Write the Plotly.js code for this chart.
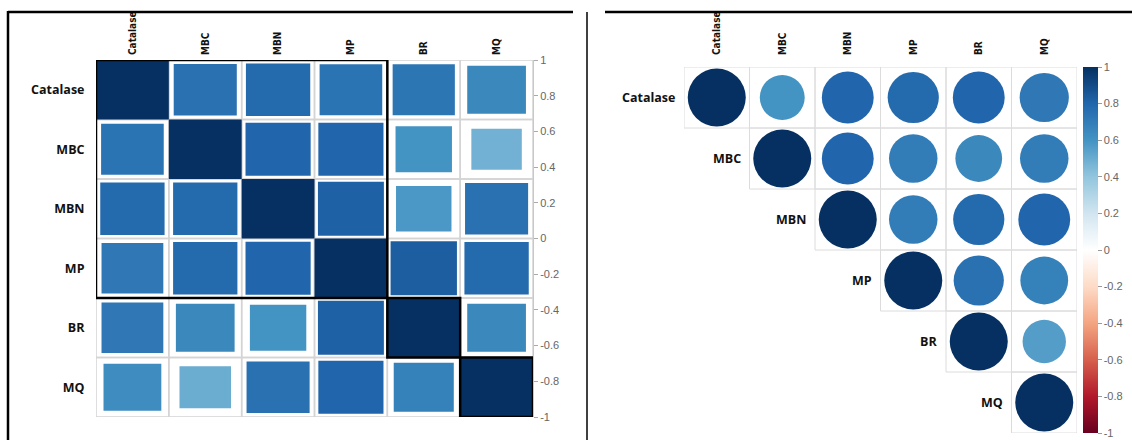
<!DOCTYPE html>
<html>
<head>
<meta charset="utf-8">
<script src="https://cdn.plot.ly/plotly-3.0.1.min.js"></script>
<style>html,body{margin:0;padding:0;background:#fff;}#chart{width:1132px;height:440px;}</style>
</head>
<body>
<div id="chart"></div>
<script>
// ---- data ----
const categories = ['Catalase', 'MBC', 'MBN', 'MP', 'BR', 'MQ'];
// left panel (method = square, hclust order, full matrix)
const squareCorr = [
  [1.00, 0.75, 0.78, 0.74, 0.73, 0.65],
  [0.74, 1.00, 0.80, 0.80, 0.60, 0.48],
  [0.78, 0.78, 1.00, 0.82, 0.58, 0.75],
  [0.72, 0.78, 0.80, 1.00, 0.83, 0.78],
  [0.72, 0.65, 0.60, 0.82, 1.00, 0.65],
  [0.63, 0.50, 0.75, 0.80, 0.68, 1.00]
];
// hclust rectangles (first, last index)
const clusters = [[0, 3], [4, 4], [5, 5]];
// right panel (method = circle, upper triangle)
const circleCorr = [
  [1.00, 0.60, 0.80, 0.78, 0.80, 0.72],
  [null, 1.00, 0.80, 0.70, 0.65, 0.70],
  [null, null, 1.00, 0.70, 0.78, 0.80],
  [null, null, null, 1.00, 0.75, 0.68],
  [null, null, null, null, 1.00, 0.56],
  [null, null, null, null, null, 1.00]
];
const colorTicks = [1, 0.8, 0.6, 0.4, 0.2, 0, -0.2, -0.4, -0.6, -0.8, -1];

// ---- colours (corrplot RdBu) ----
const rdbu = [
  [0.0, '#67001F'], [0.1, '#B2182B'], [0.2, '#D6604D'], [0.3, '#F4A582'],
  [0.4, '#FDDBC7'], [0.5, '#FFFFFF'], [0.6, '#D1E5F0'], [0.7, '#92C5DE'],
  [0.8, '#4393C3'], [0.9, '#2166AC'], [1.0, '#053061']
];
function hex2rgb(h) { return [1, 3, 5].map(k => parseInt(h.substr(k, 2), 16)); }
function colorAt(v) {
  const t = Math.max(0, Math.min(1, (v + 1) / 2));
  for (let k = 1; k < rdbu.length; k++) {
    if (t <= rdbu[k][0]) {
      const a = rdbu[k - 1], b = rdbu[k];
      const f = (t - a[0]) / (b[0] - a[0]);
      const ca = hex2rgb(a[1]), cb = hex2rgb(b[1]);
      const c = ca.map((x, i) => Math.round(x + (cb[i] - x) * f));
      return 'rgb(' + c.join(',') + ')';
    }
  }
  return rdbu[rdbu.length - 1][1];
}

const W = 1132, H = 440;
const px = x => x / W, py = y => 1 - y / H;
const idx = categories.map((_, i) => i);

const shapes = [];
// left grid
categories.forEach((_, i) => categories.forEach((_, j) => {
  shapes.push({type: 'rect', xref: 'x', yref: 'y', x0: j - 0.5, x1: j + 0.5, y0: i - 0.5, y1: i + 0.5,
    line: {color: '#d4d4d4', width: 1.5}, fillcolor: 'rgba(0,0,0,0)'});
}));
// left squares
squareCorr.forEach((row, i) => row.forEach((r, j) => {
  const h = 0.5 * Math.sqrt(Math.abs(r));
  shapes.push({type: 'rect', xref: 'x', yref: 'y', x0: j - h, x1: j + h, y0: i - h, y1: i + h,
    line: {width: 0}, fillcolor: colorAt(r)});
}));
// cluster rectangles
clusters.forEach(([a, b]) => {
  shapes.push({type: 'rect', xref: 'x', yref: 'y', x0: a - 0.5, x1: b + 0.5, y0: a - 0.5, y1: b + 0.5,
    line: {color: '#000', width: 2.5}, fillcolor: 'rgba(0,0,0,0)'});
});
// right grid (upper triangle)
circleCorr.forEach((row, i) => row.forEach((r, j) => {
  if (r === null) return;
  shapes.push({type: 'rect', xref: 'x2', yref: 'y2', x0: j - 0.5, x1: j + 0.5, y0: i - 0.5, y1: i + 0.5,
    line: {color: '#dcdcdc', width: 1}, fillcolor: 'rgba(0,0,0,0)', layer: 'below'});
}));
// table frame
shapes.push({type: 'line', xref: 'paper', yref: 'paper', x0: px(8), x1: px(573), y0: py(12), y1: py(12), line: {color: '#000', width: 2.5}});
shapes.push({type: 'line', xref: 'paper', yref: 'paper', x0: px(605), x1: 1, y0: py(12), y1: py(12), line: {color: '#000', width: 2.5}});
shapes.push({type: 'line', xref: 'paper', yref: 'paper', x0: px(8), x1: px(8), y0: py(11), y1: 0, line: {color: '#000', width: 2.5}});
shapes.push({type: 'line', xref: 'paper', yref: 'paper', x0: px(587), x1: px(587), y0: py(12), y1: 0, line: {color: '#000', width: 1.5}});

// circles trace
const cx = [], cy = [], cv = [], cs = [];
circleCorr.forEach((row, i) => row.forEach((r, j) => {
  if (r === null) return;
  cx.push(j); cy.push(i); cv.push(r); cs.push(58 * Math.sqrt(Math.abs(r)));
}));

const labelFontCol = {family: '"DejaVu Sans Condensed", "Liberation Sans", Arial, sans-serif', size: 10, weight: 'bold', color: '#111'};
const labelFontRow = {family: '"Open Sans", sans-serif', size: 12.5, weight: 'bold', color: '#111'};
const tickFont = {family: '"Liberation Sans", Arial, sans-serif', size: 11, color: '#666'};

const traces = [
  {type: 'scatter', x: idx, y: idx, xaxis: 'x', yaxis: 'y', mode: 'markers', marker: {opacity: 0}, hoverinfo: 'skip', showlegend: false},
  {type: 'scatter', x: [0], y: [0], xaxis: 'x', yaxis: 'y3', mode: 'markers', marker: {opacity: 0}, hoverinfo: 'skip', showlegend: false},
  {type: 'scatter', x: cx, y: cy, xaxis: 'x2', yaxis: 'y2', mode: 'markers', showlegend: false, hoverinfo: 'skip',
    marker: {symbol: 'circle', size: cs, opacity: 1, color: cv, cmin: -1, cmax: 1, colorscale: rdbu, line: {width: 0},
      colorbar: {x: px(1083), xanchor: 'left', y: py(67), yanchor: 'top', len: 366, lenmode: 'pixels',
        thickness: 15, xpad: 0, ypad: 0, outlinewidth: 0, tickvals: colorTicks, ticktext: colorTicks.map(String),
        ticks: 'outside', ticklen: 4, tickcolor: '#999', tickfont: tickFont}}}
];

const annotations = categories.map((c, i) => ({
  xref: 'x2', yref: 'y2', x: i - 0.5, y: i, text: c, showarrow: false, xanchor: 'right', yanchor: 'middle',
  xshift: -7, font: labelFontRow
}));

const layout = {
  width: W, height: H, margin: {l: 0, r: 0, t: 0, b: 0}, paper_bgcolor: '#fff', plot_bgcolor: 'rgba(0,0,0,0)',
  showlegend: false,
  xaxis: {domain: [px(96), px(533)], range: [-0.5, 5.5], side: 'top', anchor: 'y', tickvals: idx, ticktext: categories,
    tickangle: -90, ticks: 'outside', ticklen: 2, tickcolor: 'rgba(0,0,0,0)', showgrid: false, zeroline: false, showline: false, tickfont: labelFontCol, fixedrange: true},
  yaxis: {domain: [py(417), py(60)], range: [5.5, -0.5], anchor: 'x', tickvals: idx, ticktext: categories,
    ticks: 'outside', ticklen: 8, tickcolor: 'rgba(0,0,0,0)', showgrid: false, zeroline: false, showline: false, tickfont: labelFontRow, fixedrange: true},
  yaxis3: {domain: [py(417), py(60)], overlaying: 'y', side: 'right', anchor: 'x', range: [-1, 1], tickvals: colorTicks,
    ticktext: colorTicks.map(String), showline: true, linecolor: '#c8c8c8', linewidth: 1, ticks: 'outside', ticklen: 4, tickcolor: '#aaa',
    showgrid: false, zeroline: false, tickfont: tickFont, fixedrange: true},
  xaxis2: {domain: [px(684), px(1077)], range: [-0.5, 5.5], side: 'top', anchor: 'y2', tickvals: idx, ticktext: categories,
    tickangle: -90, ticks: 'outside', ticklen: 9, tickcolor: 'rgba(0,0,0,0)', showgrid: false, zeroline: false, showline: false, tickfont: labelFontCol, fixedrange: true},
  yaxis2: {domain: [py(433), py(67)], range: [5.5, -0.5], anchor: 'x2', showticklabels: false, ticks: '', showgrid: false, zeroline: false, showline: false, fixedrange: true},
  shapes: shapes,
  annotations: annotations
};

Plotly.newPlot('chart', traces, layout, {displayModeBar: false, staticPlot: true});
</script>
</body>
</html>
